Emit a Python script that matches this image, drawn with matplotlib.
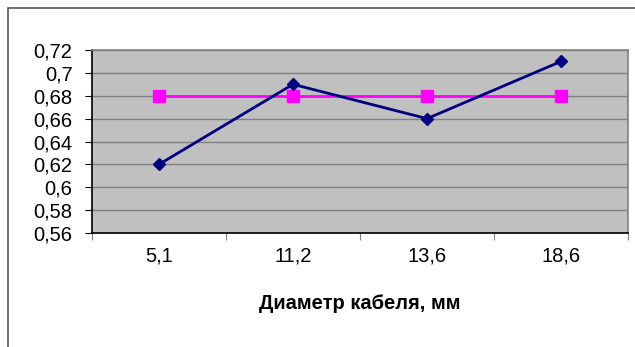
import matplotlib
matplotlib.use('Agg')
import matplotlib.pyplot as plt
from matplotlib.patches import Rectangle
from matplotlib.ticker import FixedLocator, FuncFormatter

# cable diameters and measured / reference values
diameters = ['5,1', '11,2', '13,6', '18,6']
measured = [0.62, 0.69, 0.66, 0.71]
reference = [0.68, 0.68, 0.68, 0.68]
y_ticks = [0.56, 0.58, 0.60, 0.62, 0.64, 0.66, 0.68, 0.70, 0.72]

plt.rcParams['font.family'] = ['Liberation Sans', 'DejaVu Sans']

W, H = 635, 347
fig = plt.figure(figsize=(W / 100, H / 100), dpi=100)

# outer chart frame (only top and left edges visible)
fig.patches.append(Rectangle((8 / W, -0.1), 1.2, 1 - 8 / H + 0.1,
                             transform=fig.transFigure, fill=False,
                             edgecolor='#555555', linewidth=1.2))

ax = fig.add_axes([92 / W, (H - 233) / H, 536 / W, 183 / H])
ax.set_facecolor('#C0C0C0')

x = list(range(len(diameters)))
ax.plot(x, measured, color='#000080', linewidth=2, marker='D',
        markersize=6, zorder=3)
ax.plot(x, reference, color='#FF00FF', linewidth=2, marker='s',
        markersize=8, zorder=2)

ax.set_xlim(-0.5, len(diameters) - 0.5)
ax.set_ylim(0.56, 0.72)

ax.yaxis.set_major_locator(FixedLocator(y_ticks))
ax.yaxis.set_major_formatter(FuncFormatter(
    lambda v, p: ('%.2f' % v).rstrip('0').replace('.', ',')))
ax.grid(axis='y', color='#808080', linewidth=1)
ax.set_axisbelow(True)

# categories labelled at centres, tick marks between them
ax.set_xticks([i - 0.5 for i in range(len(diameters) + 1)])
ax.set_xticklabels([])
ax.set_xticks(x, minor=True)
ax.set_xticklabels(diameters, minor=True)
ax.tick_params(axis='x', which='minor', length=0, pad=10, labelsize=14.5)
ax.tick_params(axis='x', which='major', length=5, color='#808080')
ax.tick_params(axis='y', length=5, labelsize=14.5, pad=9)

for side in ('left', 'bottom'):
    ax.spines[side].set_color('black')
    ax.spines[side].set_linewidth(1.2)
for side in ('top', 'right'):
    ax.spines[side].set_color('#808080')
    ax.spines[side].set_linewidth(1.2)

ax.set_xlabel('Диаметр кабеля, мм', fontsize=14.5, fontweight='bold',
              labelpad=20)

fig.savefig('out.png', dpi=100)
